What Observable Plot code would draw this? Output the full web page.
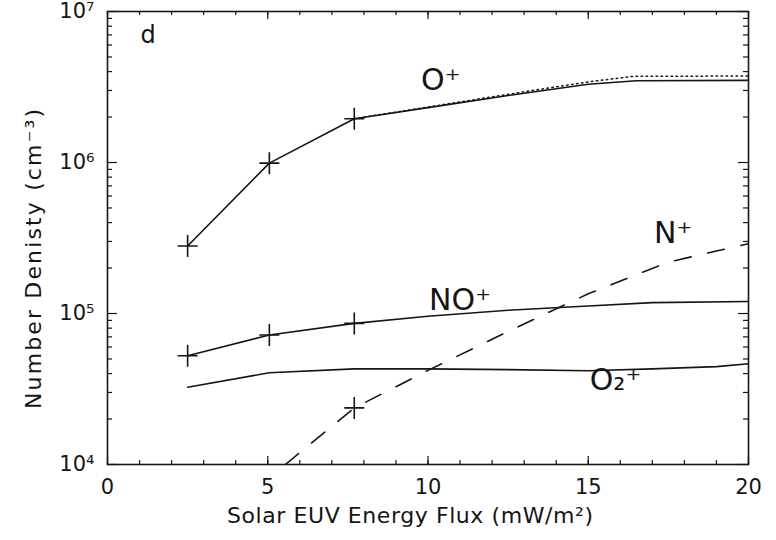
<!DOCTYPE html>
<html><head><meta charset="utf-8">
<script src="https://cdn.jsdelivr.net/npm/d3@7"></script>
<script src="https://cdn.jsdelivr.net/npm/@observablehq/plot@0.6"></script>
<style>
body{margin:0;background:#fff}
#chart svg{font-family:"DejaVu Sans",sans-serif;background:#fff}
</style>
</head><body><div id="chart"></div>
<script>
// ---- data ----
const oPlusFlux   = [2.5, 5.05, 7.7, 10, 12.5, 15, 16.5, 20];
const oPlusDens   = [2.8e5, 9.9e5, 1.95e6, 2.31e6, 2.78e6, 3.3e6, 3.48e6, 3.5e6];
const oPlusAltFlux = [7.7, 10, 12.5, 15, 16.4, 20];
const oPlusAltDens = [1.95e6, 2.33e6, 2.83e6, 3.42e6, 3.72e6, 3.74e6];
const noPlusFlux  = [2.5, 5.05, 7.7, 10, 12.5, 15, 17, 20];
const noPlusDens  = [5.25e4, 7.2e4, 8.6e4, 9.6e4, 1.05e5, 1.12e5, 1.18e5, 1.2e5];
const o2PlusFlux  = [2.5, 5.05, 7.7, 10, 12.5, 15, 17, 19, 20];
const o2PlusDens  = [3.25e4, 4.05e4, 4.3e4, 4.3e4, 4.25e4, 4.18e4, 4.3e4, 4.45e4, 4.65e4];
const nPlusFlux   = [5.55, 7.7, 10, 12.5, 15, 17.5, 20];
const nPlusDens   = [1.0e4, 2.37e4, 4.2e4, 7.6e4, 1.35e5, 2.19e5, 2.9e5];
const markFlux    = [2.5, 5.05, 7.7, 2.5, 5.05, 7.7, 7.7];
const markDens    = [2.8e5, 9.9e5, 1.95e6, 5.25e4, 7.2e4, 8.6e4, 2.37e4];
const labelText   = ["O⁺", "NO⁺", "N⁺", "O₂⁺"];
const labelFlux   = [10.4, 11.0, 17.65, 15.85];
const labelDens   = [3.5e6, 1.22e5, 3.4e5, 3.6e4];
const xTickValues = [0, 5, 10, 15, 20];
const xTickLabels = ["0", "5", "10", "15", "20"];
const xMinorValues = d3.range(0, 21, 1);
const yTickValues = [1e4, 1e5, 1e6, 1e7];
const yTickLabels = ["10⁴", "10⁵", "10⁶", "10⁷"];
const yMinorValues = [1e4, 1e5, 1e6].flatMap(d => [2,3,4,5,6,7,8,9].map(k => k * d));
const panelLabel = "d";
const xTitle = "Solar EUV Energy Flux (mW/m²)";
const yTitle = "Number Denisty (cm⁻³)";

const series = (xs, ys) => xs.map((x, i) => ({x, y: ys[i]}));

const W = 776, H = 540, mL = 107, mR = 28, mT = 11, mB = 76;
const pw = W - mL - mR, ph = H - mT - mB;
const ink = "#151515";

const plusSymbol = {
  draw(ctx, size) {
    const r = Math.sqrt(size / Math.PI);
    ctx.moveTo(-r, 0); ctx.lineTo(r, 0);
    ctx.moveTo(0, -r * 1.1); ctx.lineTo(0, r * 1.1);
  }
};

const chart = Plot.plot({
  width: W, height: H,
  marginLeft: mL, marginRight: mR, marginTop: mT, marginBottom: mB,
  style: {fontFamily: "DejaVu Sans, sans-serif", fontSize: "20px", color: ink, background: "#fff"},
  x: {domain: [0, 20], axis: null},
  y: {type: "log", domain: [1e4, 1e7], axis: null},
  marks: [
    // ticks (inward, all four sides)
    Plot.tickX(xMinorValues, {x: d => d, insetTop: ph - 4, stroke: ink, strokeWidth: 1.2}),
    Plot.tickX(xTickValues, {x: d => d, insetTop: ph - 8, stroke: ink, strokeWidth: 1.2}),
    Plot.tickX(xMinorValues, {x: d => d, insetBottom: ph - 4, stroke: ink, strokeWidth: 1.2}),
    Plot.tickX(xTickValues, {x: d => d, insetBottom: ph - 8, stroke: ink, strokeWidth: 1.2}),
    Plot.tickY(yMinorValues, {y: d => d, insetRight: pw - 5, stroke: ink, strokeWidth: 1.2}),
    Plot.tickY(yTickValues, {y: d => d, insetRight: pw - 10, stroke: ink, strokeWidth: 1.2}),
    Plot.tickY(yMinorValues, {y: d => d, insetLeft: pw - 5, stroke: ink, strokeWidth: 1.2}),
    Plot.tickY(yTickValues, {y: d => d, insetLeft: pw - 10, stroke: ink, strokeWidth: 1.2}),
    Plot.frame({stroke: ink, strokeWidth: 1.6}),
    // tick labels
    Plot.text(xTickValues, {x: d => d, text: (d, i) => xTickLabels[i], frameAnchor: "bottom", lineAnchor: "top", dy: 15, fontSize: 21, fill: ink}),
    Plot.text(yTickValues, {y: d => d, text: (d, i) => yTickLabels[i], frameAnchor: "left", textAnchor: "end", dx: -13, fontSize: 21, fill: ink}),
    // axis titles
    Plot.text([xTitle], {text: d => d, frameAnchor: "bottom", textAnchor: "middle", lineAnchor: "top", dx: -18, dy: 43, fontSize: 22, fill: ink, className: "xtitle"}),
    Plot.text([yTitle], {text: d => d, frameAnchor: "left", textAnchor: "middle", rotate: -90, dx: -74, dy: 21, fontSize: 22, fill: ink, className: "ytitle"}),
    Plot.text([panelLabel], {text: d => d, frameAnchor: "top-left", lineAnchor: "top", dx: 33, dy: 14, fontSize: 24, fill: ink}),
    // curves
    Plot.line(series(oPlusAltFlux, oPlusAltDens), {x: "x", y: "y", stroke: ink, strokeWidth: 1.5, strokeDasharray: "1.5,3.5"}),
    Plot.line(series(oPlusFlux, oPlusDens), {x: "x", y: "y", stroke: ink, strokeWidth: 1.6}),
    Plot.line(series(noPlusFlux, noPlusDens), {x: "x", y: "y", stroke: ink, strokeWidth: 1.6}),
    Plot.line(series(o2PlusFlux, o2PlusDens), {x: "x", y: "y", stroke: ink, strokeWidth: 1.6}),
    Plot.line(series(nPlusFlux, nPlusDens), {x: "x", y: "y", stroke: ink, strokeWidth: 1.6, strokeDasharray: "17,17", clip: true}),
    Plot.dot(series(markFlux, markDens), {x: "x", y: "y", symbol: plusSymbol, r: 10, stroke: ink, strokeWidth: 1.6, fill: "none"}),
    // species labels
    Plot.text(series(labelFlux, labelDens), {x: "x", y: "y", text: (d, i) => labelText[i], fontSize: 30, fill: ink})
  ]
});
// stretch axis titles to the reference's wide lettering
chart.querySelectorAll("text").forEach(t => {
  if (t.textContent === xTitle) { t.setAttribute("textLength", 366); t.setAttribute("lengthAdjust", "spacing"); }
  if (t.textContent === yTitle) { t.setAttribute("textLength", 300); t.setAttribute("lengthAdjust", "spacing"); }
});
document.getElementById("chart").appendChild(chart);
</script>
</body></html>
